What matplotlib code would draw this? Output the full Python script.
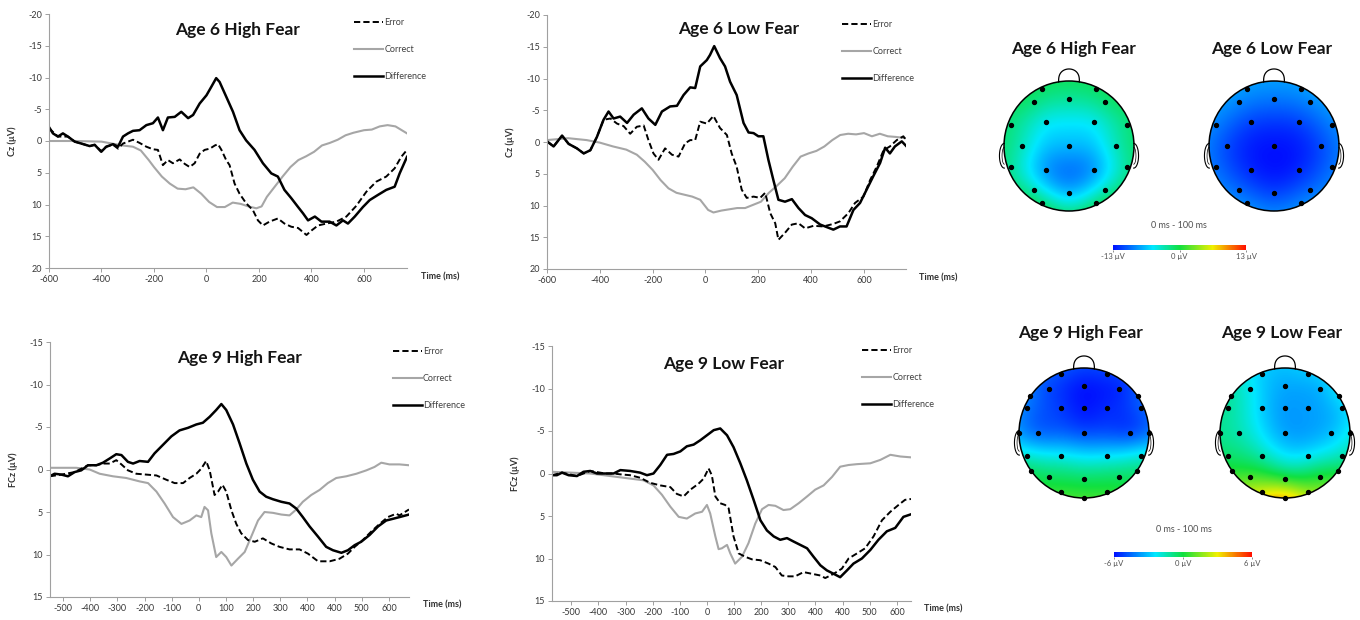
import matplotlib
matplotlib.use('Agg')
import matplotlib.pyplot as plt
import numpy as np
from matplotlib.colors import LinearSegmentedColormap, Normalize
from matplotlib.patches import Circle
from matplotlib.cm import ScalarMappable

plt.rcParams['font.family'] = ['Lato', 'DejaVu Sans']
plt.rcParams['axes.unicode_minus'] = False

# ---------------- ERP waveforms (µV, negative up) ----------------
# Age 6 High Fear (Cz)
a6h_err_t = [-600,-566,-528,-502,-477,-445,-426,-401,-382,-356,-337,-318,-280,-255,-229,-204,-185,-166,-147,-128,
             -102,-83,-64,-45,-26,-7,13,32,44,57,75,88,107,126,151,177,196,215,240,272,297,323,349,381,400,425,457,
             495,533,571,609,647,685,717,742,764]
a6h_err_v = [-2.0,-0.7,-0.7,0.1,0.4,0.8,0.6,1.6,0.9,0.6,1.2,0.4,-0.2,0.3,0.9,1.3,1.4,3.8,3.0,3.5,
             2.9,3.6,4.1,3.5,2.0,1.4,1.2,0.7,0.5,1.4,3.0,3.8,6.7,8.3,9.8,10.9,12.5,13.3,12.7,12.2,13.0,13.5,13.7,
             14.8,14.1,13.3,13.0,12.7,11.9,10.2,8.0,6.4,5.6,4.3,2.5,1.4]
a6h_cor_t = [-600,-500,-400,-320,-280,-250,-220,-200,-170,-140,-110,-80,-50,-20,10,40,70,100,130,160,
             190,210,230,260,290,320,350,380,410,440,470,500,530,560,600,630,660,690,720,764]
a6h_cor_v = [0.0,0.0,0.1,0.7,0.9,1.5,3.0,4.1,5.6,6.7,7.5,7.6,7.3,8.3,9.6,10.4,10.4,9.7,9.9,10.3,
             10.6,10.3,8.8,7.2,5.6,4.1,3.0,2.4,1.7,0.7,0.3,-0.2,-0.9,-1.3,-1.7,-1.8,-2.3,-2.5,-2.3,-1.2]
a6h_dif_t = [-600,-585,-566,-547,-528,-502,-477,-445,-426,-401,-382,-356,-337,-318,-299,-280,-255,-229,-204,-185,
             -166,-147,-121,-96,-70,-51,-26,0,18,37,50,75,101,126,151,183,215,247,272,297,323,349,368,387,413,
             438,469,495,520,539,565,596,622,653,685,717,736,764]
a6h_dif_v = [-2.2,-1.2,-0.7,-1.2,-0.7,0.1,0.4,0.8,0.6,1.7,0.9,0.5,0.9,-0.7,-1.2,-1.6,-1.7,-2.5,-2.8,-3.7,
             -1.7,-3.7,-3.8,-4.6,-3.6,-4.1,-5.9,-7.2,-8.5,-9.9,-9.3,-7.0,-4.6,-1.7,-0.1,1.4,3.5,5.1,5.6,7.7,9.0,
             10.4,11.4,12.5,11.9,12.7,12.7,13.3,12.5,13.0,11.9,10.4,9.3,8.5,7.7,7.2,5.1,2.5]

# Age 6 Low Fear (Cz)
a6l_err_t = [-600,-575,-543,-518,-487,-461,-436,-411,-386,-360,-335,-310,-285,-260,-234,-216,-197,-178,-153,-127,
             -102,-77,-58,-39,-20,5,30,55,81,99,118,137,156,182,207,226,245,264,276,301,327,352,377,409,446,
             484,509,541,566,598,623,648,674,698,724,749,759]
a6l_err_v = [-0.1,0.7,-1.0,0.3,1.0,1.8,1.3,-0.8,-3.5,-3.7,-2.9,-2.5,-1.3,-2.4,-2.6,-0.3,1.8,2.8,1.0,2.0,
             2.3,0.2,-0.3,-0.3,-3.2,-2.9,-4.1,-2.2,-1.1,1.8,3.9,7.5,8.8,8.6,8.8,8.0,11.2,12.8,15.4,14.3,13.0,
             12.8,13.6,13.2,13.3,12.9,12.5,11.2,9.6,8.6,6.0,3.9,1.3,0.7,-0.3,-0.9,-0.3]
a6l_cor_t = [-600,-520,-450,-400,-350,-300,-260,-230,-200,-170,-140,-110,-80,-50,-20,10,30,60,90,120,
             150,180,210,240,270,300,330,360,390,420,450,480,510,540,570,600,630,660,690,720,759]
a6l_cor_v = [-0.3,-0.6,-0.3,0.1,0.7,1.2,2.0,3.1,4.4,6.0,7.3,8.0,8.3,8.6,9.1,10.7,11.1,10.8,10.6,10.4,
             10.4,9.9,9.4,8.0,6.9,5.7,3.9,2.3,1.8,1.4,0.7,-0.3,-1.1,-1.3,-1.2,-1.4,-0.9,-1.3,-0.9,-0.8,-0.6]
a6l_dif_t = [-600,-575,-543,-518,-487,-461,-436,-411,-386,-367,-348,-323,-297,-272,-241,-216,-190,-165,-134,-108,
             -83,-58,-39,-20,5,17,33,55,74,93,118,144,163,182,200,219,238,257,276,301,327,352,377,402,434,
             459,484,509,534,560,585,610,635,661,680,698,717,743,759]
a6l_dif_v = [-0.1,0.7,-1.0,0.3,1.0,1.8,1.3,-0.8,-3.5,-4.8,-3.7,-4.0,-3.0,-4.3,-5.3,-3.7,-2.7,-4.8,-5.6,-5.7,
             -7.4,-8.6,-8.5,-11.9,-12.9,-13.7,-15.1,-13.2,-11.9,-9.5,-7.4,-3.0,-1.5,-1.4,-0.9,-0.9,2.8,6.0,9.1,
             9.4,9.0,10.4,11.5,12.0,13.0,13.4,13.8,13.3,13.3,10.7,9.6,7.5,5.4,3.3,0.9,1.8,0.7,-0.1,0.6]

# Age 9 High Fear (FCz) - x is category position on the axis
a9h_err_t = [-549,-506,-457,-408,-377,-353,-328,-304,-285,-261,-230,-193,-156,-120,-89,-58,-34,-9,9,27,
             40,58,71,87,101,120,138,156,181,206,236,267,297,334,371,402,439,482,518,549,574,604,635,666,696,
             727,739,774]
a9h_err_v = [0.8,0.6,0.3,-0.5,-0.5,-0.7,-0.7,-1.1,-0.6,0.1,0.5,0.6,0.7,1.2,1.6,1.6,1.0,0.5,-0.1,-1.0,
             0.1,3.0,2.6,1.8,2.6,4.8,6.4,7.5,8.3,8.5,8.1,8.7,9.1,9.4,9.4,9.9,10.8,10.8,10.5,9.9,9.1,8.3,7.3,
             6.4,5.6,5.2,5.4,4.7]
a9h_cor_t = [-549,-451,-402,-365,-316,-267,-218,-187,-156,-126,-95,-64,-34,-9,9,21,34,46,64,83,
             101,120,144,169,193,218,242,273,304,334,359,383,414,445,475,506,543,580,617,647,672,702,739,774]
a9h_cor_v = [-0.2,-0.2,0.0,0.5,0.8,1.0,1.4,1.6,2.6,4.0,5.6,6.4,6.0,5.4,5.6,4.4,4.8,7.5,10.3,9.7,
             10.3,11.3,10.5,9.7,7.9,6.0,5.0,5.1,5.3,5.4,4.7,3.8,3.0,2.4,1.6,1.0,0.8,0.5,0.1,-0.3,-0.8,-0.6,
             -0.6,-0.5]
a9h_dif_t = [-549,-531,-506,-482,-457,-433,-408,-377,-353,-328,-304,-285,-261,-242,-218,-187,-163,-132,-101,-71,
             -40,-9,15,40,64,83,101,126,150,175,199,224,248,273,304,334,359,383,408,439,469,494,525,549,574,
             598,629,660,690,715,739,774]
a9h_dif_v = [0.8,0.5,0.6,0.8,0.3,0.1,-0.5,-0.5,-0.8,-1.3,-1.8,-1.7,-0.9,-0.7,-1.0,-0.9,-1.9,-2.9,-3.9,-4.6,
             -4.9,-5.3,-5.5,-6.2,-7.0,-7.7,-7.0,-5.3,-3.1,-0.7,1.2,2.6,3.2,3.5,3.8,4.0,4.6,5.6,6.7,7.9,9.1,
             9.5,9.8,9.5,8.9,8.5,7.7,6.7,6.0,5.8,5.6,5.3]

# Age 9 Low Fear (FCz)
a9l_err_t = [-571,-534,-479,-430,-375,-344,-319,-283,-246,-209,-172,-135,-111,-86,-61,-31,-12,6,18,31,
             49,67,80,98,117,141,166,196,227,252,276,301,325,356,387,418,436,467,497,522,553,583,614,645,676,
             706,730,752]
a9l_err_v = [0.2,-0.1,0.3,-0.3,0.0,0.0,0.1,0.2,0.5,1.1,1.4,1.6,2.4,2.7,1.9,1.2,0.6,-0.6,0.2,2.7,
             3.5,3.7,4.1,7.4,9.4,9.8,10.1,10.2,10.6,11.0,12.0,12.1,12.1,11.6,11.8,12.0,12.3,11.8,11.2,10.0,
             9.4,8.8,7.4,5.5,4.5,3.7,3.1,3.0]
a9l_cor_t = [-571,-430,-332,-283,-234,-197,-166,-135,-104,-74,-43,-18,0,12,31,43,55,74,86,104,
             129,153,178,203,227,252,282,307,338,369,399,430,461,491,522,553,602,639,676,713,752]
a9l_cor_v = [-0.2,0.0,0.4,0.6,0.8,1.4,2.5,3.9,5.1,5.3,4.7,4.5,3.7,4.7,7.4,8.9,8.8,8.4,9.4,10.6,
             9.8,8.2,5.9,4.2,3.7,3.8,4.3,4.2,3.5,2.7,1.9,1.4,0.4,-0.8,-1.0,-1.1,-1.2,-1.6,-2.2,-2.0,-1.9]
a9l_dif_t = [-571,-553,-534,-510,-479,-455,-430,-405,-375,-344,-319,-283,-246,-221,-197,-172,-147,-123,-98,-74,
             -49,-25,0,25,49,74,98,123,147,172,197,221,246,270,295,319,344,369,393,418,442,467,491,516,540,
             571,602,632,663,694,724,752]
a9l_dif_v = [0.2,0.2,-0.1,0.2,0.3,-0.2,-0.3,0.0,0.0,0.0,-0.4,-0.3,-0.1,0.2,0.0,-1.0,-2.2,-2.3,-2.6,-3.2,
             -3.4,-3.9,-4.5,-5.1,-5.3,-4.5,-3.1,-1.2,0.8,3.1,5.5,6.7,7.4,7.8,7.6,8.0,8.4,8.8,9.8,10.8,11.4,
             11.8,12.2,11.4,10.6,10.0,9.0,7.8,6.8,6.4,5.1,4.8]

age6_xticks = [-600, -400, -200, 0, 200, 400, 600]
age6_xlabels = ['-600', '-400', '-200', '0', '200', '400', '600']
age9_xticks = [-500, -400, -300, -200, -100, 0, 100, 200, 300, 400, 500, 600, 700]
age9_xlabels = ['-500', '-400', '-300', '-200', '-100', '0', '100', '200', '300', '400', '400', '500', '600']

# ---------------- scalp maps (0 - 100 ms) ----------------
e6_x = [-0.41, 0.42, -0.54, 0.0, 0.55, -0.89, -0.36, 0.38, 0.89, -0.72, 0.0, 0.72,
        -0.89, -0.36, 0.38, 0.89, -0.54, 0.0, 0.55, -0.41, 0.42]
e6_y = [0.87, 0.87, 0.67, 0.72, 0.67, 0.33, 0.37, 0.37, 0.33, 0.0, 0.0, 0.0,
        -0.33, -0.37, -0.37, -0.33, -0.67, -0.72, -0.67, -0.87, -0.87]
map6_high = [-1.2, -1.2, -1.8, -2.5, -1.8, -1.8, -4.5, -4.5, -1.8, -3.5, -7.0, -3.5,
             -2.5, -7.5, -7.5, -2.5, -3.5, -6.5, -3.5, -2.0, -2.0]
map6_low = [-8.2, -8.2, -8.8, -9.3, -8.8, -9.0, -11.0, -11.0, -9.0, -10.8, -12.8, -10.8,
            -9.6, -12.0, -12.0, -9.6, -9.8, -11.0, -9.8, -9.0, -9.0]

e9_x = [-0.35, 0.35, -0.54, 0.0, 0.54, -0.83, 0.83, -0.87, -0.35, 0.0, 0.35, 0.87,
        -1.0, -0.71, 0.0, 0.71, 1.0, -0.87, -0.35, 0.35, 0.87, -0.81, 0.81,
        -0.54, 0.0, 0.54, -0.35, 0.35, 0.0]
e9_y = [0.91, 0.91, 0.68, 0.72, 0.68, 0.57, 0.57, 0.38, 0.38, 0.38, 0.38, 0.38,
        0.0, 0.0, 0.0, 0.0, 0.0, -0.36, -0.36, -0.36, -0.36, -0.59, -0.59,
        -0.68, -0.70, -0.68, -0.91, -0.91, -1.0]
map9_high = [-5.0, -5.3, -5.0, -5.8, -5.5, -4.3, -4.8, -4.3, -5.3, -5.8, -5.6, -4.8,
             -3.6, -4.3, -4.8, -4.8, -4.2, -1.8, -2.2, -2.4, -2.0, -0.6, -0.8,
             -0.4, -0.5, -0.5, 0.4, 0.3, 0.6]
map9_low = [-2.8, -3.0, -2.2, -3.4, -3.2, -1.3, -2.6, -1.2, -2.8, -3.6, -3.6, -2.8,
            -1.0, -1.4, -3.4, -3.0, -2.2, -0.5, -1.3, -2.2, -1.4, 0.3, -0.2,
            0.8, 0.4, 0.2, 2.6, 1.8, 3.6]

topo_cmap = LinearSegmentedColormap.from_list(
    'topo', [(0.0, '#0010ff'), (0.3, '#00e8ff'), (0.5, '#10e040'), (0.75, '#f0f000'), (1.0, '#ff1000')])

W, H = 1360, 620
fig = plt.figure(figsize=(13.6, 6.2), dpi=100)


def px_axes(l, t, r, b):
    return fig.add_axes([l / W, 1 - b / H, (r - l) / W, (b - t) / H])


def erp_panel(rect, title, ylab, err, cor, dif, ylim, xlim, xticks, xlabels, title_xy, leg_xy, time_xy):
    ax = px_axes(*rect)
    lc, = ax.plot(cor[0], cor[1], color='#a6a6a6', lw=1.5, label='Correct')
    le, = ax.plot(err[0], err[1], color='black', lw=1.4, ls=(0, (3.2, 1.6)), label='Error')
    ld, = ax.plot(dif[0], dif[1], color='black', lw=1.8, label='Difference')
    ax.set_xlim(xlim)
    ax.set_ylim(ylim[1], ylim[0])
    ax.set_yticks(np.arange(ylim[0], ylim[1] + 1, 5))
    ax.set_xticks(xticks)
    ax.set_xticklabels(xlabels)
    for s in ['top', 'right']:
        ax.spines[s].set_visible(False)
    for s in ['left', 'bottom']:
        ax.spines[s].set_color('#a0a0a0')
        ax.spines[s].set_linewidth(0.8)
    ax.tick_params(length=3, width=0.7, color='#a0a0a0', labelsize=6.5, labelcolor='#383838', pad=2)
    ax.set_ylabel(ylab, fontsize=6.5, fontweight='bold', color='#303030')
    ax.yaxis.set_label_coords(-0.09, 0.5)
    ax.text(title_xy[0], title_xy[1], title, transform=ax.transAxes, ha='center', va='center',
            fontsize=12.5, fontweight='bold', color='#151515')
    leg = ax.legend(handles=[le, lc, ld], loc='upper left', bbox_to_anchor=leg_xy, frameon=False,
                    fontsize=6.5, handlelength=3.2, handletextpad=0.15, labelspacing=2.0,
                    borderpad=0, borderaxespad=0)
    for t in leg.get_texts():
        t.set_color('#404040')
    fig.text(time_xy[0] / W, 1 - time_xy[1] / H, 'Time (ms)', ha='center', va='center',
             fontsize=6.5, fontweight='bold', color='#303030')
    return ax


def head_map(cx, cy, ex, ey, vals, vmax):
    r = 65
    ax = px_axes(cx - 1.3 * r, cy - 1.3 * r, cx + 1.3 * r, cy + 1.3 * r)
    ax.set_xlim(-1.3, 1.3)
    ax.set_ylim(-1.3, 1.3)
    ax.axis('off')
    px = np.array(ex)
    py = np.array(ey)
    v = np.array(vals)
    n = len(v)
    # multiquadric rbf interpolation
    c = 0.45
    d = np.hypot(px[:, None] - px[None, :], py[:, None] - py[None, :])
    M = np.zeros((n + 1, n + 1))
    M[:n, :n] = np.sqrt(d ** 2 + c ** 2)
    M[:n, n] = 1
    M[n, :n] = 1
    sol = np.linalg.solve(M, np.append(v, 0))
    g = np.linspace(-1, 1, 241)
    gx, gy = np.meshgrid(g, g)
    dg = np.hypot(gx[..., None] - px, gy[..., None] - py)
    z = np.sqrt(dg ** 2 + c ** 2) @ sol[:n] + sol[n]
    im = ax.imshow(z, extent=(-1, 1, -1, 1), origin='lower', cmap=topo_cmap,
                   vmin=-vmax, vmax=vmax, interpolation='bilinear')
    circ = Circle((0, 0), 1, fc='none', ec='black', lw=1.1, zorder=3)
    ax.add_patch(circ)
    im.set_clip_path(circ)
    th = np.linspace(0, np.pi, 40)
    ax.plot(0.16 * np.cos(th), 0.985 + 0.2 * np.sin(th) ** 0.7, color='black', lw=0.9)
    ear = np.linspace(-np.pi / 2, np.pi / 2, 30)
    for side in (-1, 1):
        ax.plot(side * (0.995 + 0.075 * np.cos(ear)), -0.15 + 0.19 * np.sin(ear),
                color='black', lw=0.8)
        ax.plot(side * (0.995 + 0.035 * np.cos(ear)), -0.15 + 0.13 * np.sin(ear),
                color='black', lw=0.5)
    ax.scatter(ex, ey, s=8, color='black', zorder=4)
    return ax


def map_colorbar(rect, vmax):
    cax = px_axes(*rect)
    cb = fig.colorbar(ScalarMappable(Normalize(-vmax, vmax), topo_cmap), cax=cax, orientation='horizontal')
    cb.set_ticks([-vmax, 0, vmax])
    cb.set_ticklabels(['-%d µV' % vmax, '0 µV', '%d µV' % vmax])
    cb.outline.set_visible(False)
    cb.ax.tick_params(labelsize=5.5, length=1.5, width=0.5, color='#606060', labelcolor='#505050', pad=1)


erp_panel((49, 14, 407, 268), 'Age 6 High Fear', 'Cz (µV)',
          (a6h_err_t, a6h_err_v), (a6h_cor_t, a6h_cor_v), (a6h_dif_t, a6h_dif_v),
          (-20, 20), (-600, 764), age6_xticks, age6_xlabels, (0.528, 0.937), (0.852, 0.985), (440, 277))
erp_panel((547, 15, 906, 269), 'Age 6 Low Fear', 'Cz (µV)',
          (a6l_err_t, a6l_err_v), (a6l_cor_t, a6l_cor_v), (a6l_dif_t, a6l_dif_v),
          (-20, 20), (-600, 759), age6_xticks, age6_xlabels, (0.535, 0.945), (0.822, 0.98), (938, 278))
erp_panel((50, 342, 409, 597), 'Age 9 High Fear', 'FCz (µV)',
          (a9h_err_t, a9h_err_v), (a9h_cor_t, a9h_cor_v), (a9h_dif_t, a9h_dif_v),
          (-15, 15), (-548, 774), age9_xticks, age9_xlabels, (0.529, 0.937), (0.955, 0.98), (442, 605))
erp_panel((552, 346, 911, 601), 'Age 9 Low Fear', 'FCz (µV)',
          (a9l_err_t, a9l_err_v), (a9l_cor_t, a9l_cor_v), (a9l_dif_t, a9l_dif_v),
          (-15, 15), (-571, 752), age9_xticks, age9_xlabels, (0.479, 0.929), (0.864, 1.0), (943, 609))

head_map(1069, 146, e6_x, e6_y, map6_high, 13)
head_map(1274, 146, e6_x, e6_y, map6_low, 13)
head_map(1084, 433, e9_x, e9_y, map9_high, 6)
head_map(1285, 433, e9_x, e9_y, map9_low, 6)

for txt, x, y in [('Age 6 High Fear', 1074, 49), ('Age 6 Low Fear', 1272, 49),
                  ('Age 9 High Fear', 1081, 333), ('Age 9 Low Fear', 1282, 333)]:
    fig.text(x / W, 1 - y / H, txt, ha='center', va='center', fontsize=12.5, fontweight='bold', color='#151515')

fig.text(1179 / W, 1 - 226 / H, '0 ms - 100 ms', ha='center', va='center', fontsize=6.5, color='#505050')
fig.text(1184 / W, 1 - 530 / H, '0 ms - 100 ms', ha='center', va='center', fontsize=6.5, color='#505050')
map_colorbar((1113, 245, 1246, 250), 13)
map_colorbar((1114, 552, 1252, 557), 6)

fig.savefig('out.png', dpi=100, facecolor='white')
